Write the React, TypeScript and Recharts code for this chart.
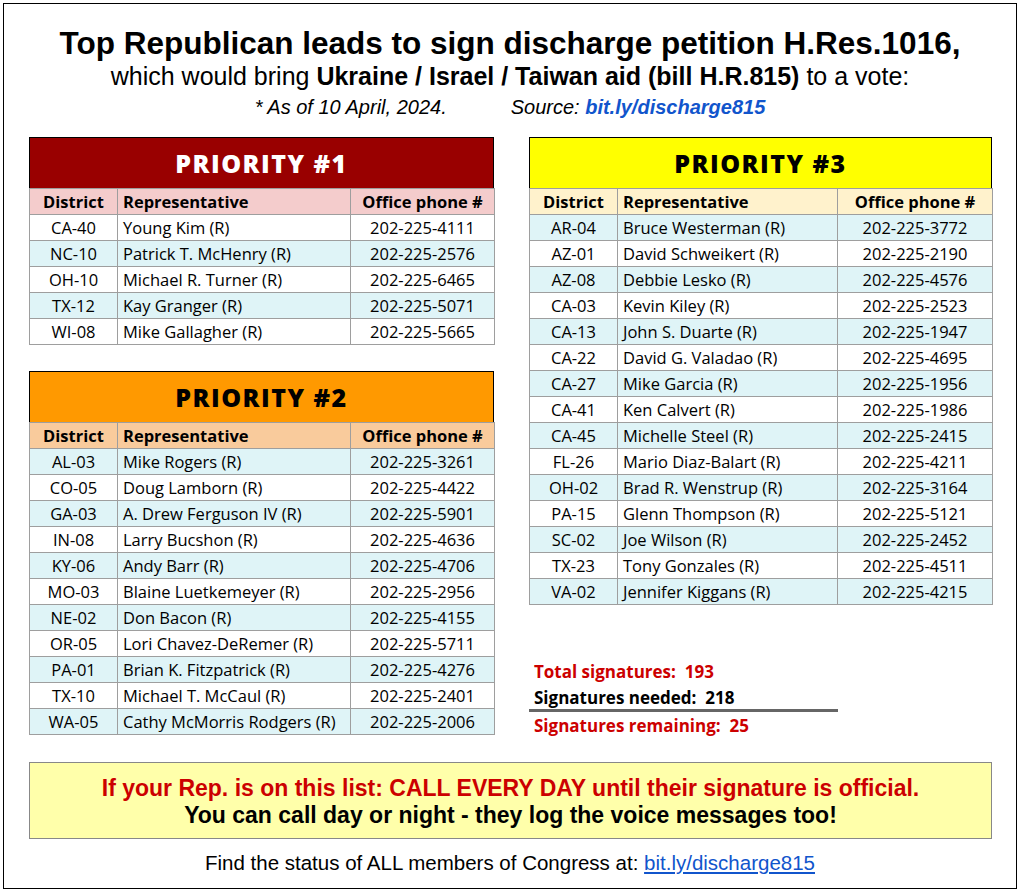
import React from 'react';
import { Surface, Rectangle } from 'recharts';

type Row = [string, string, string];

const priority1: Row[] = [
  ['CA-40', 'Young Kim (R)', '202-225-4111'],
  ['NC-10', 'Patrick T. McHenry (R)', '202-225-2576'],
  ['OH-10', 'Michael R. Turner (R)', '202-225-6465'],
  ['TX-12', 'Kay Granger (R)', '202-225-5071'],
  ['WI-08', 'Mike Gallagher (R)', '202-225-5665'],
];

const priority2: Row[] = [
  ['AL-03', 'Mike Rogers (R)', '202-225-3261'],
  ['CO-05', 'Doug Lamborn (R)', '202-225-4422'],
  ['GA-03', 'A. Drew Ferguson IV (R)', '202-225-5901'],
  ['IN-08', 'Larry Bucshon (R)', '202-225-4636'],
  ['KY-06', 'Andy Barr (R)', '202-225-4706'],
  ['MO-03', 'Blaine Luetkemeyer (R)', '202-225-2956'],
  ['NE-02', 'Don Bacon (R)', '202-225-4155'],
  ['OR-05', 'Lori Chavez-DeRemer (R)', '202-225-5711'],
  ['PA-01', 'Brian K. Fitzpatrick (R)', '202-225-4276'],
  ['TX-10', 'Michael T. McCaul (R)', '202-225-2401'],
  ['WA-05', 'Cathy McMorris Rodgers (R)', '202-225-2006'],
];

const priority3: Row[] = [
  ['AR-04', 'Bruce Westerman (R)', '202-225-3772'],
  ['AZ-01', 'David Schweikert (R)', '202-225-2190'],
  ['AZ-08', 'Debbie Lesko (R)', '202-225-4576'],
  ['CA-03', 'Kevin Kiley (R)', '202-225-2523'],
  ['CA-13', 'John S. Duarte (R)', '202-225-1947'],
  ['CA-22', 'David G. Valadao (R)', '202-225-4695'],
  ['CA-27', 'Mike Garcia (R)', '202-225-1956'],
  ['CA-41', 'Ken Calvert (R)', '202-225-1986'],
  ['CA-45', 'Michelle Steel (R)', '202-225-2415'],
  ['FL-26', 'Mario Diaz-Balart (R)', '202-225-4211'],
  ['OH-02', 'Brad R. Wenstrup (R)', '202-225-3164'],
  ['PA-15', 'Glenn Thompson (R)', '202-225-5121'],
  ['SC-02', 'Joe Wilson (R)', '202-225-2452'],
  ['TX-23', 'Tony Gonzales (R)', '202-225-4511'],
  ['VA-02', 'Jennifer Kiggans (R)', '202-225-4215'],
];

const columns = ['District', 'Representative', 'Office phone #'];

const totalSignatures = 193;
const signaturesNeeded = 218;

const TABLE_FONT = '"Open Sans", "Noto Sans", sans-serif';
const CYAN = '#dff4f7';

function PriorityTable({
  title, rows, left, top, widths, bandBg, bandFg, headBg, firstShaded,
}: {
  title: string; rows: Row[]; left: number; top: number; widths: number[];
  bandBg: string; bandFg: string; headBg: string; firstShaded: boolean;
}) {
  const total = widths.reduce((a, b) => a + b, 0);
  const cell: React.CSSProperties = {
    borderRight: '1px solid #9e9e9e',
    borderBottom: '1px solid #9e9e9e',
    height: 25,
    padding: '0 5px',
    fontSize: 16.5,
    lineHeight: '25px',
    whiteSpace: 'nowrap',
    overflow: 'hidden',
  };
  return (
    <div style={{ position: 'absolute', left, top, width: total, fontFamily: TABLE_FONT, color: '#000' }}>
      <div
        style={{
          height: 51, background: bandBg, color: bandFg, borderTop: '1px solid #000',
          borderLeft: '1px solid #000', borderRight: '1px solid #000', boxSizing: 'border-box',
          display: 'flex', alignItems: 'center', justifyContent: 'center',
          fontSize: 25, fontWeight: 800, letterSpacing: 1.5,
        }}
      >
        {title}
      </div>
      <table
        style={{
          borderCollapse: 'collapse', tableLayout: 'fixed', width: total,
          borderLeft: '1px solid #9e9e9e', borderRight: '1px solid #000', borderTop: '1px solid #9e9e9e',
        }}
      >
        <colgroup>
          {widths.map((w, i) => <col key={i} style={{ width: w }} />)}
        </colgroup>
        <tbody>
          <tr style={{ background: headBg }}>
            {columns.map((c, i) => (
              <td key={c} style={{ ...cell, fontWeight: 700, textAlign: i === 1 ? 'left' : 'center' }}>{c}</td>
            ))}
          </tr>
          {rows.map((r, ri) => {
            const shaded = (ri % 2 === 0) === firstShaded;
            return (
              <tr key={r[0]} style={{ background: shaded ? CYAN : '#fff' }}>
                <td style={{ ...cell, textAlign: 'center' }}>{r[0]}</td>
                <td style={{ ...cell, textAlign: 'left' }}>{r[1]}</td>
                <td style={{ ...cell, textAlign: 'center' }}>{r[2]}</td>
              </tr>
            );
          })}
        </tbody>
      </table>
    </div>
  );
}

export default function App() {
  const remaining = signaturesNeeded - totalSignatures;
  const arial = '"Liberation Sans", Arial, sans-serif';
  const link: React.CSSProperties = { color: '#1155cc', fontWeight: 700 };
  return (
    <div style={{ position: 'absolute', left: 0, top: 0, width: 1020, height: 892, background: '#fff' }}>
      <div
        style={{
          position: 'absolute', left: 3, top: 3, width: 1014, height: 886,
          border: '1px solid #000', boxSizing: 'border-box',
        }}
      />
      <div style={{ position: 'absolute', left: 0, top: 24, width: 1020, textAlign: 'center', fontFamily: arial }}>
        <div style={{ fontSize: 31.5, fontWeight: 700, lineHeight: '38px' }}>
          Top Republican leads to sign discharge petition H.Res.1016,
        </div>
        <div style={{ fontSize: 25, lineHeight: '30px', marginTop: -1 }}>
          which would bring <b>Ukraine / Israel / Taiwan aid (bill H.R.815)</b> to a vote:
        </div>
        <div style={{ fontSize: 20, lineHeight: '30px', fontStyle: 'italic', marginTop: 1 }}>
          * As of 10 April, 2024.<span style={{ display: 'inline-block', width: 64 }} />Source: <span style={link}>bit.ly/discharge815</span>
        </div>
      </div>

      <PriorityTable
        title="PRIORITY #1" rows={priority1} left={29} top={137} widths={[88, 233, 144]}
        bandBg="#990000" bandFg="#fff" headBg="#f4cccc" firstShaded={false}
      />
      <PriorityTable
        title="PRIORITY #2" rows={priority2} left={29} top={371} widths={[88, 233, 144]}
        bandBg="#ff9900" bandFg="#000" headBg="#f9cb9c" firstShaded={true}
      />
      <PriorityTable
        title="PRIORITY #3" rows={priority3} left={529} top={137} widths={[88, 220, 155]}
        bandBg="#ffff00" bandFg="#000" headBg="#fff2cc" firstShaded={true}
      />

      <div style={{ position: 'absolute', left: 534, top: 659, fontFamily: TABLE_FONT, fontSize: 17, fontWeight: 700, lineHeight: '26px' }}>
        <div style={{ color: '#cc0000' }}>Total signatures:&nbsp; {totalSignatures}</div>
        <div style={{ color: '#000' }}>Signatures needed:&nbsp; {signaturesNeeded}</div>
        <div style={{ color: '#cc0000', marginTop: 2 }}>Signatures remaining:&nbsp; {remaining}</div>
      </div>
      <div style={{ position: 'absolute', left: 529, top: 709, height: 3, lineHeight: 0 }}>
        <Surface width={309} height={3} style={{ display: 'block' }}>
          <Rectangle x={0} y={0} width={309} height={3} fill="#666666" />
        </Surface>
      </div>

      <div
        style={{
          position: 'absolute', left: 29, top: 762, width: 963, height: 77, boxSizing: 'border-box',
          background: '#ffffaa', border: '1px solid #888', textAlign: 'center',
          fontFamily: arial, fontWeight: 700, fontSize: 23, lineHeight: '27px', paddingTop: 12,
        }}
      >
        <div style={{ color: '#cc0000' }}>If your Rep. is on this list: CALL EVERY DAY until their signature is official.</div>
        <div style={{ color: '#000' }}>You can call day or night - they log the voice messages too!</div>
      </div>

      <div style={{ position: 'absolute', left: 0, top: 851, width: 1020, textAlign: 'center', fontFamily: arial, fontSize: 20.5 }}>
        Find the status of ALL members of Congress at:{' '}
        <span style={{ color: '#1155cc', textDecoration: 'underline' }}>bit.ly/discharge815</span>
      </div>
    </div>
  );
}
